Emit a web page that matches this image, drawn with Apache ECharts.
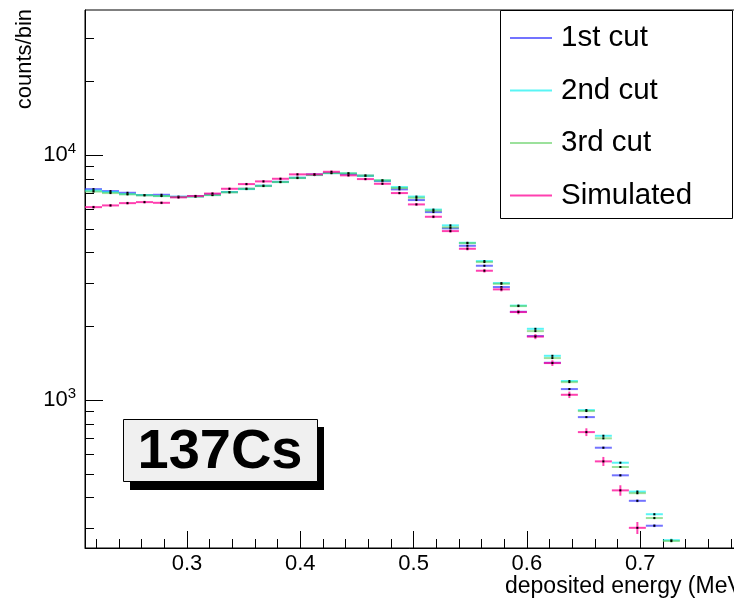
<!DOCTYPE html>
<html><head><meta charset="utf-8">
<script src="https://cdn.jsdelivr.net/npm/echarts@6/dist/echarts.min.js"></script>
<style>html,body{margin:0;padding:0;background:#fff}#c{width:734px;height:599px}</style>
</head><body><div id="c"></div>
<script>
// ---- data ----
const energy = [0.2175, 0.2325, 0.2475, 0.2625, 0.2775, 0.2925, 0.3075, 0.3225, 0.3375, 0.3525,
  0.3675, 0.3825, 0.3975, 0.4125, 0.4275, 0.4425, 0.4575, 0.4725, 0.4875, 0.5025,
  0.5175, 0.5325, 0.5475, 0.5625, 0.5775, 0.5925, 0.6075, 0.6225, 0.6375, 0.6525,
  0.6675, 0.6825, 0.6975, 0.7125, 0.7275];
const binWidth = 0.015;
const cut1 = [7263, 7130, 7017, 6867, 6887, 6759, 6804, 6913, 7063, 7286, 7494, 7780, 8078, 8342, 8444, 8366, 8234, 7832, 7244, 6552, 5851, 5022, 4264, 3534, 2893, 2293, 1825, 1420, 1109, 852, 639, 493, 388, 307, 235];
const cut2 = [7163, 7063, 6932, 6867, 6804, 6759, 6771, 6867, 7063, 7263, 7494, 7759, 8078, 8289, 8444, 8422, 8234, 7883, 7403, 6771, 5991, 5166, 4385, 3693, 3003, 2430, 1954, 1516, 1196, 910, 715, 555, 423, 342, 268];
const cut3 = [7096, 6997, 6913, 6848, 6804, 6740, 6771, 6867, 7043, 7286, 7473, 7759, 8056, 8289, 8444, 8422, 8250, 7883, 7334, 6695, 5934, 5069, 4373, 3659, 2983, 2419, 1912, 1484, 1184, 902, 698, 533, 417, 330, 266];
const simulated = [6131, 6230, 6366, 6427, 6385, 6720, 6804, 6965, 7286, 7613, 7809, 8004, 8342, 8342, 8547, 8265, 7980, 7636, 6997, 6289, 5600, 4894, 4146, 3372, 2830, 2287, 1816, 1416, 1051, 740, 562, 428, 301, 220, 170];
const errCut1 = [20, 20, 20, 20, 20, 20, 20, 20, 20, 20, 21, 21, 22, 22, 22, 22, 22, 21, 20, 19, 18, 16, 15, 14, 12, 11, 10, 9, 8, 7, 6, 5, 5, 4, 4];
const errCut2 = [20, 20, 20, 20, 20, 20, 20, 20, 20, 20, 21, 21, 22, 22, 22, 22, 22, 21, 20, 19, 18, 17, 15, 14, 12, 11, 10, 9, 8, 7, 6, 5, 5, 4, 4];
const errCut3 = [20, 20, 20, 20, 20, 20, 20, 20, 20, 20, 21, 21, 22, 22, 22, 22, 22, 21, 20, 19, 18, 17, 15, 14, 12, 11, 10, 9, 8, 7, 6, 5, 5, 4, 4];
const errSim = [78, 79, 80, 80, 80, 82, 82, 83, 85, 87, 88, 89, 91, 91, 92, 91, 89, 87, 84, 79, 75, 70, 64, 58, 53, 48, 43, 38, 32, 27, 24, 21, 17, 15, 13];
const seriesNames = ['1st cut', '2nd cut', '3rd cut', 'Simulated'];
const xMajorTicks = [0.3, 0.4, 0.5, 0.6, 0.7, 0.8];
const xMinorTicks = [0.22, 0.24, 0.26, 0.28, 0.32, 0.34, 0.36, 0.38, 0.42, 0.44, 0.46, 0.48,
  0.52, 0.54, 0.56, 0.58, 0.62, 0.64, 0.66, 0.68, 0.72, 0.74, 0.76, 0.78];
const yMajorTicks = [1000, 10000];
const yMinorTicks = [300, 400, 500, 600, 700, 800, 900, 2000, 3000, 4000, 5000, 6000, 7000, 8000, 9000, 20000, 30000];
const X_MIN = 0.21, X_MAX = 0.8, Y_MIN = 249, Y_MAX = 39100;

// ---- style ----
const FONT = '"Liberation Sans", Arial, Helvetica, sans-serif';
const colors = ['rgba(40,40,255,0.65)', 'rgba(0,240,240,0.65)', 'rgba(90,205,90,0.6)', 'rgba(255,0,150,0.75)'];

function build(vals, errs) {
  return energy.map((e, i) => [e, vals[i], errs[i]]);
}
function renderer(color) {
  return function (params, api) {
    const x = api.value(0), y = api.value(1), er = api.value(2);
    const a = api.coord([x - binWidth / 2, y]);
    const b = api.coord([x + binWidth / 2, y]);
    const c = api.coord([x, y]);
    const up = api.coord([x, y + er]);
    const dn = api.coord([x, Math.max(y - er, 1)]);
    return {
      type: 'group', children: [
        { type: 'line', shape: { x1: a[0], y1: a[1], x2: b[0], y2: b[1] }, style: { stroke: color, lineWidth: 2 } },
        { type: 'line', shape: { x1: c[0], y1: up[1], x2: c[0], y2: dn[1] }, style: { stroke: color, lineWidth: 2 } },
        { type: 'rect', shape: { x: c[0] - 1, y: c[1] - 1, width: 2, height: 2 }, style: { fill: '#000' } }
      ]
    };
  };
}
const allVals = [cut1, cut2, cut3, simulated];
const allErrs = [errCut1, errCut2, errCut3, errSim];

const chart = echarts.init(document.getElementById('c'), null, { renderer: 'canvas' });
chart.setOption({
  animation: false,
  backgroundColor: '#fff',
  grid: { left: 85, top: 10, width: 668.5, height: 538, show: true, borderColor: '#000', borderWidth: 1, containLabel: false, outerBoundsMode: 'none' },
  xAxis: [
    { type: 'value', position: 'bottom', min: X_MIN, max: X_MAX,
      axisLine: { onZero: false, lineStyle: { color: '#000', width: 1 } }, splitLine: { show: false },
      axisTick: { inside: true, length: 17, customValues: xMajorTicks, lineStyle: { color: '#000' } },
      axisLabel: { customValues: xMajorTicks, formatter: v => v.toFixed(1), fontSize: 22, fontFamily: FONT, color: '#000', margin: 5 } },
    { type: 'value', position: 'bottom', min: X_MIN, max: X_MAX,
      axisLine: { show: false, onZero: false }, splitLine: { show: false }, axisLabel: { show: false },
      axisTick: { inside: true, length: 9, customValues: xMinorTicks, lineStyle: { color: '#000' } } }
  ],
  yAxis: [
    { type: 'log', logBase: 10, position: 'left', min: Y_MIN, max: Y_MAX,
      axisLine: { show: true, onZero: false, lineStyle: { color: '#000', width: 1 } }, splitLine: { show: false },
      axisTick: { inside: true, length: 18, customValues: yMajorTicks, lineStyle: { color: '#000' } },
      axisLabel: { customValues: yMajorTicks, margin: 9,
        formatter: v => '{a|10}{b|' + Math.round(Math.log10(v)) + '}',
        rich: { a: { fontSize: 22, fontFamily: FONT, color: '#000' }, b: { fontSize: 15, fontFamily: FONT, color: '#000', padding: [0, 0, 12, 0] } } } },
    { type: 'log', logBase: 10, position: 'left', min: Y_MIN, max: Y_MAX,
      axisLine: { show: false, onZero: false }, splitLine: { show: false }, axisLabel: { show: false },
      axisTick: { inside: true, length: 9, customValues: yMinorTicks, lineStyle: { color: '#000' } } }
  ],
  legend: {
    orient: 'vertical', left: 500, top: 11, padding: [10, 0, 0, 10], itemGap: 18.5,
    itemWidth: 42, itemHeight: 2, icon: 'rect', z: 6,
    textStyle: { fontSize: 29.5, fontFamily: FONT, color: '#000', lineHeight: 30, padding: [4, 0, 0, 4] },
    data: seriesNames
  },
  graphic: [
    { type: 'rect', z: 5, shape: { x: 500.5, y: 10.5, width: 232, height: 208 }, style: { fill: '#fff', stroke: '#000', lineWidth: 1 } },
    { type: 'rect', z: 5, shape: { x: 130, y: 427, width: 194, height: 63 }, style: { fill: '#000' } },
    { type: 'rect', z: 5, shape: { x: 123.5, y: 419.5, width: 194, height: 62 }, style: { fill: '#f0f0f0', stroke: '#000', lineWidth: 1 } },
    { type: 'text', z: 6, x: 220, y: 453, style: { text: '137Cs', fontSize: 56, fontWeight: 'bold', fontFamily: FONT, fill: '#000', align: 'center', verticalAlign: 'middle' } },
    { type: 'text', z: 6, x: 25, y: 9, rotation: Math.PI / 2, style: { text: 'counts/bin', fontSize: 22, fontFamily: FONT, fill: '#000', align: 'right', verticalAlign: 'middle' } },
    { type: 'text', z: 6, x: 505, y: 587, style: { text: 'deposited energy (MeV)', fontSize: 23, fontFamily: FONT, fill: '#000', align: 'left', verticalAlign: 'middle' } }
  ],
  series: seriesNames.map((name, i) => ({
    name: name, type: 'custom', xAxisIndex: 0, yAxisIndex: 0, clip: true,
    itemStyle: { color: colors[i] },
    encode: { x: 0, y: 1 },
    renderItem: renderer(colors[i]),
    data: build(allVals[i], allErrs[i])
  }))
});
</script></body></html>
